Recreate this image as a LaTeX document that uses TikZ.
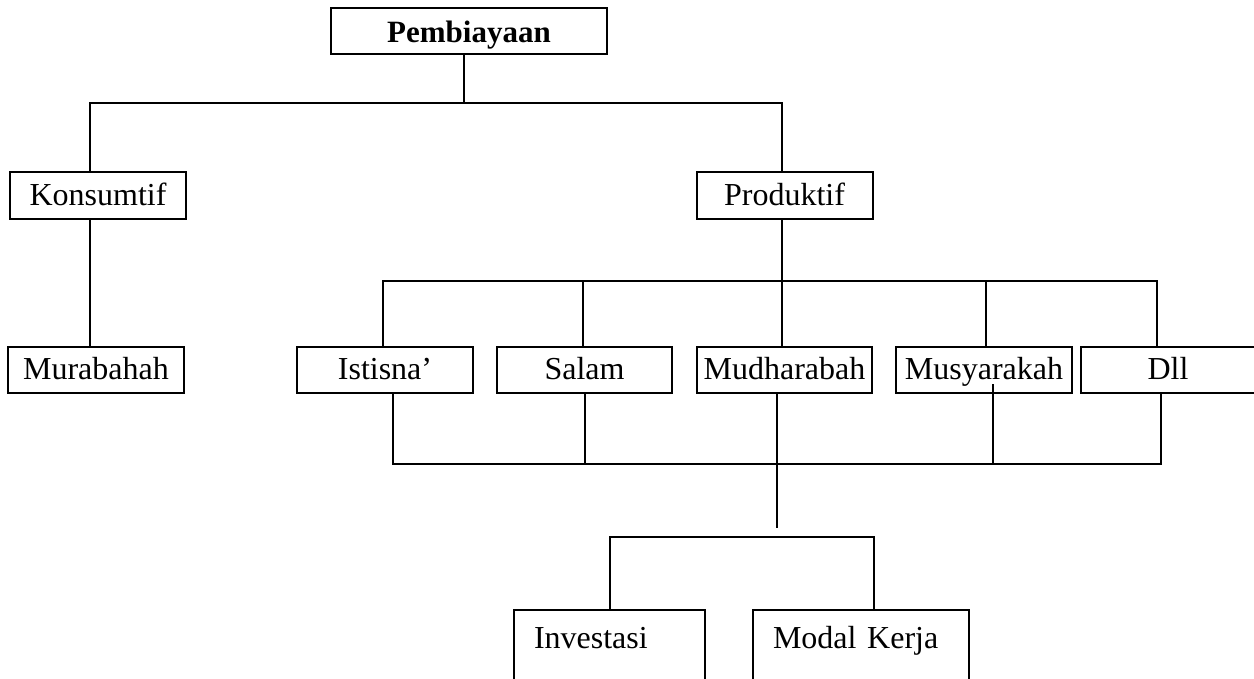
\documentclass[tikz,border=0pt]{standalone}
\newif\ifhavepal
\IfFileExists{palatino.sty}{\IfFileExists{pplr8t.tfm}{\IfFileExists{uplr8a.pfb}{\havepaltrue}{}}{}}{}
\ifhavepal
  \usepackage[T1]{fontenc}
  \usepackage{palatino}
  \newcommand\diagfont{\fontsize{14.75pt}{17pt}\selectfont}
  \newcommand\diagbold{\bfseries\fontsize{14.5pt}{17pt}\selectfont}
\else
  \usepackage{fontspec}
  \setmainfont{Liberation Serif}
  \newcommand\diagfont{\fontsize{16pt}{18pt}\selectfont}
  \newcommand\diagbold{\bfseries\fontsize{15.5pt}{17pt}\selectfont}
\fi
\begin{document}
\begin{tikzpicture}[x=0.5pt,y=-0.5pt,
  box/.style={draw,line width=1pt,inner ysep=0pt,inner xsep=0pt,text height=16.5pt,text depth=6.75pt,font=\diagfont},
  openbox/.style={draw,line width=1pt,anchor=north west,inner ysep=0pt,inner xsep=10pt,align=left,text height=19pt,text depth=30pt,font=\diagfont},
  conn/.style={line width=1pt}]
\useasboundingbox (0,0) rectangle (1254,679);
\clip (0,0) rectangle (1254,679);
% nodes
\node[box,minimum width=138pt,text height=17pt,text depth=6pt,font=\diagbold] (P) at (469,31.5) {Pembiayaan};
\node[box,minimum width=88pt] (K) at (98,195.5) {Konsumtif};
\node[box,minimum width=88pt] (Pr) at (784.5,195.5) {Produktif};
\node[box,minimum width=88pt] (M) at (96,370) {Murabahah};
\node[box,minimum width=88pt] (I) at (385,370) {Istisna'};
\node[box,minimum width=87.5pt] (S) at (584.5,370) {Salam};
\node[box,minimum width=87.5pt] (Md) at (784.5,370) {Mudharabah};
\node[box,minimum width=88pt] (Ms) at (984,370) {Musyarakah};
\node[box,minimum width=87pt] (D) at (1168,370) {Dll};
\node[openbox,text width=75.5pt] (Inv) at (513,609) {Investasi};
\node[openbox,text width=88pt] (MK) at (752,609) {Modal Kerja};
% junction coordinates
\coordinate (j1) at (0,103);
\coordinate (j2) at (0,281);
\coordinate (j3) at (0,464);
\coordinate (j4) at (777,528);
\coordinate (j5) at (0,537);
% connectors
\draw[conn] ([xshift=-2.5pt]P.south) -- ([xshift=-2.5pt]P.south |- j1);
\draw[conn] ([xshift=-4pt]K.north) |- ([xshift=-1.25pt]Pr.north |- j1) -- ([xshift=-1.25pt]Pr.north);
\draw[conn] ([xshift=-4pt]K.south) -- ([xshift=-3pt]M.north);
\draw[conn] ([xshift=-1.25pt]Pr.south) -- ([xshift=-1.25pt]Pr.south |- j2);
\draw[conn] ([xshift=-1pt]I.north) |- ([xshift=-5.5pt]D.north |- j2) -- ([xshift=-5.5pt]D.north);
\draw[conn] ([xshift=-0.75pt]S.north) -- ([xshift=-0.75pt]S.north |- j2);
\draw[conn] ([xshift=-1.25pt]Md.north) -- ([xshift=-1.25pt]Md.north |- j2);
\draw[conn] ([xshift=1pt]Ms.north) -- ([xshift=1pt]Ms.north |- j2);
\draw[conn] ([xshift=4pt]I.south) |- ([xshift=-3.5pt]D.south |- j3) -- ([xshift=-3.5pt]D.south);
\draw[conn] ([xshift=0.25pt]S.south) -- ([xshift=0.25pt]S.south |- j3);
\draw[conn] ([xshift=4.5pt,yshift=5pt]Ms.south) -- ([xshift=4.5pt]Ms.south |- j3);
\draw[conn] ([xshift=-3.75pt]Md.south) -- (j4);
\draw[conn] ([xshift=0.25pt]Inv.north) |- ([xshift=6.5pt]MK.north |- j5) -- ([xshift=6.5pt]MK.north);
\end{tikzpicture}
\end{document}
